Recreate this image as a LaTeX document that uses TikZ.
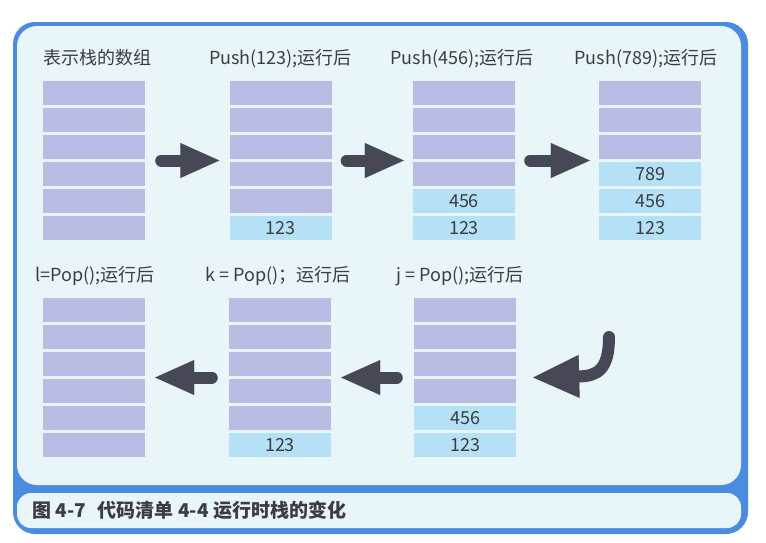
\documentclass[tikz,border=0pt]{standalone}
\usepackage{fontspec}
\usepackage{tikz}
\usetikzlibrary{arrows.meta,positioning,calc}
\newfontfamily\cjk{Noto Sans CJK SC}
\definecolor{StackInk}{HTML}{3C3C42}
\definecolor{StackFrame}{HTML}{4B8CE1}
\definecolor{StackPanel}{HTML}{E8F6FA}
\definecolor{StackLilac}{HTML}{BABDE3}
\definecolor{StackBlue}{HTML}{B4E1F5}
\definecolor{StackArrow}{HTML}{464855}
\tikzset{
  cell/.style={fill=StackLilac,minimum width=102pt,minimum height=24pt,inner sep=0pt},
  used/.style={cell,fill=StackBlue,text=StackInk,font=\cjk\fontsize{18pt}{20pt}\selectfont},
  stackbox/.style={minimum width=102pt,minimum height=159pt,inner sep=0pt},
  title/.style={anchor=base,text=StackInk,font=\cjk\fontsize{18pt}{20pt}\selectfont,inner sep=0pt},
  push/.style={draw=StackArrow,line width=12pt,line cap=round,-{Triangle[length=39pt,width=35pt,line width=0.1pt]}},
}
\newcommand\emptycells[2]{\foreach \i in {1,...,#2} \node[cell] (#1-\i) at ($(#1.north)+(0,27*\i-15)$) {};}
\newcommand\usedcells[3]{\foreach \v [count=\k] in {#3} \node[used] (#1-v\k) at ($(#1.north)+(0,{27*(#2+\k)-15})$) {\v};}

\begin{document}
\begin{tikzpicture}[x=1pt,y=-1pt]
\fill[white] (0,0) rectangle (766,542);
\useasboundingbox (0,0) rectangle (766,542);
\fill[StackFrame,rounded corners=22pt] (13,22) rectangle (748,534);
\fill[StackPanel,rounded corners=20pt] (17,26) rectangle (741,485);
\fill[StackPanel,rounded corners=14pt] (17,493) rectangle (741,528);

\node[stackbox] (s1) at (94,160.5) {};
\node[stackbox] (s2) at (280.5,160.5) {};
\node[stackbox] (s3) at (464,160.5) {};
\node[stackbox] (s4) at (650,160.5) {};
\node[stackbox] (s5) at (94,377.5) {};
\node[stackbox] (s6) at (280,377.5) {};
\node[stackbox] (s7) at (465,377.5) {};

\emptycells{s1}{6}
\emptycells{s2}{5}\usedcells{s2}{5}{123}
\emptycells{s3}{4}\usedcells{s3}{4}{456,123}
\emptycells{s4}{3}\usedcells{s4}{3}{789,456,123}
\emptycells{s5}{6}
\emptycells{s6}{5}\usedcells{s6}{5}{123}
\emptycells{s7}{4}\usedcells{s7}{4}{456,123}

\node[title] (t1) at ($(s1.north)+(3,-16)$) {表示栈的数组};
\node[title] (t2) at ($(s2.north)+(0,-16)$) {Push(123);运行后};
\node[title] (t3) at ($(s3.north)+(-2,-16)$) {Push(456);运行后};
\node[title] (t4) at ($(s4.north)+(-4,-16)$) {Push(789);运行后};
\node[title] (t5) at ($(s5.north)+(1,-16)$) {l=Pop();运行后};
\node[title] (t6) at ($(s6.north)+(-2,-16)$) {k = Pop()；运行后};
\node[title] (t7) at ($(s7.north)+(-5,-16)$) {j = Pop();运行后};

\draw[push,shorten <=16pt,shorten >=10pt] (s1.east) -- (s2.west);
\draw[push,shorten <=15pt,shorten >=9pt] (s2.east) -- (s3.west);
\draw[push,shorten <=15pt,shorten >=9pt] (s3.east) -- (s4.west);
\coordinate (turn) at (609,337);
\coordinate (bend) at ($(s7.east)+(17,0)$);
\draw[push,-{Triangle[length=46pt,width=43pt,line width=0.1pt]}] (turn) .. controls (609,370) and (597,376) .. (bend);
\draw[push,shorten <=17pt,shorten >=10pt] (s7.west) -- (s6.east);
\draw[push,shorten <=17pt,shorten >=10pt] (s6.west) -- (s5.east);

\node[anchor=west,text=StackInk,font=\cjk\bfseries\fontsize{19pt}{21pt}\selectfont,inner sep=0pt] (cap) at (32,510.5) {图 4-7\hspace{12pt}代码清单 4-4 运行时栈的变化};
\end{tikzpicture}
\end{document}
